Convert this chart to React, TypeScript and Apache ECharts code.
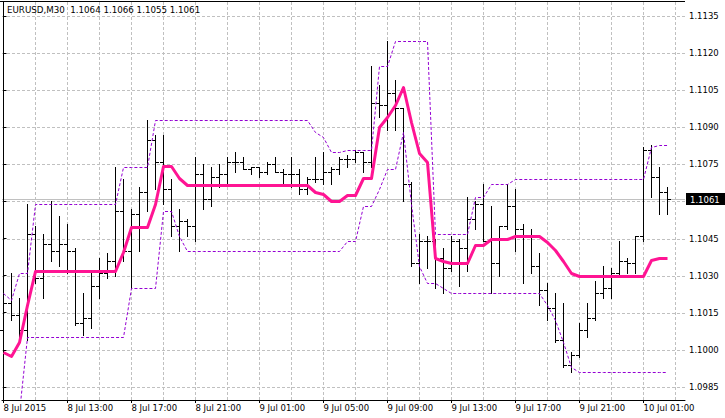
import React, { useEffect, useRef } from "react";
import * as echarts from "echarts";

const titleText = "EURUSD,M30  1.1064 1.1066 1.1055 1.1061";

const opens = [
  1.1008, 1.1019, 1.1014, 1.1008, 1.1047, 1.1029, 1.1043, 1.1040, 1.1043, 1.1040,
  1.1011, 1.1013, 1.1026, 1.1031, 1.1036, 1.1056, 1.1040, 1.1055, 1.1064, 1.1085,
  1.1076, 1.1065, 1.1050, 1.1052, 1.1050, 1.1071, 1.1061, 1.1070, 1.1071, 1.1076,
  1.1076, 1.1073, 1.1074, 1.1072, 1.1075, 1.1072, 1.1071, 1.1071, 1.1065, 1.1069,
  1.1069, 1.1072, 1.1073, 1.1077, 1.1077, 1.1080, 1.1076, 1.1100, 1.1099, 1.1104,
  1.1098, 1.1067, 1.1035, 1.1044, 1.1044, 1.1037, 1.1033, 1.1044, 1.1041, 1.1053,
  1.1059, 1.1044, 1.1035, 1.1050, 1.1058, 1.1049, 1.1046, 1.1034, 1.1024, 1.1017,
  1.1004, 1.0994, 1.0998, 1.1008, 1.1013, 1.1023, 1.1025, 1.1031, 1.1036, 1.1035,
  1.1046, 1.1081, 1.1070, 1.1064,
];
const highs = [
  1.1090, 1.1031, 1.1021, 1.1059, 1.1050, 1.1047, 1.1060, 1.1054, 1.1051, 1.1041,
  1.1023, 1.1031, 1.1037, 1.1039, 1.1074, 1.1069, 1.1057, 1.1066, 1.1093, 1.1087,
  1.1087, 1.1069, 1.1057, 1.1053, 1.1078, 1.1075, 1.1074, 1.1075, 1.1078, 1.1080,
  1.1078, 1.1074, 1.1074, 1.1076, 1.1078, 1.1073, 1.1078, 1.1073, 1.1070, 1.1078,
  1.1080, 1.1074, 1.1078, 1.1079, 1.1081, 1.1080, 1.1115, 1.1107, 1.1125, 1.1109,
  1.1098, 1.1068, 1.1047, 1.1046, 1.1045, 1.1041, 1.1046, 1.1045, 1.1062, 1.1060,
  1.1067, 1.1058, 1.1050, 1.1067, 1.1065, 1.1051, 1.1049, 1.1039, 1.1027, 1.1023,
  1.1019, 1.0999, 1.1011, 1.1019, 1.1028, 1.1034, 1.1033, 1.1044, 1.1037, 1.1046,
  1.1082, 1.1083, 1.1074, 1.1066,
];
const lows = [
  1.0999, 1.1012, 1.1005, 1.1004, 1.1027, 1.1021, 1.1036, 1.1034, 1.1031, 1.1010,
  1.1006, 1.1009, 1.1021, 1.1029, 1.1030, 1.1036, 1.1025, 1.1040, 1.1056, 1.1065,
  1.1059, 1.1046, 1.1040, 1.1046, 1.1044, 1.1057, 1.1058, 1.1066, 1.1067, 1.1072,
  1.1073, 1.1071, 1.1070, 1.1071, 1.1072, 1.1067, 1.1066, 1.1063, 1.1063, 1.1068,
  1.1067, 1.1067, 1.1071, 1.1074, 1.1076, 1.1072, 1.1074, 1.1094, 1.1089, 1.1089,
  1.1060, 1.1034, 1.1027, 1.1033, 1.1025, 1.1023, 1.1032, 1.1026, 1.1032, 1.1049,
  1.1044, 1.1023, 1.1030, 1.1049, 1.1040, 1.1027, 1.1031, 1.1018, 1.1012, 1.1003,
  1.0993, 1.0991, 1.0997, 1.1005, 1.1012, 1.1021, 1.1021, 1.1030, 1.1031, 1.1031,
  1.1044, 1.1062, 1.1055, 1.1055,
];
const closes = [
  1.1019, 1.1014, 1.1008, 1.1047, 1.1029, 1.1043, 1.1040, 1.1043, 1.1040, 1.1011,
  1.1013, 1.1026, 1.1031, 1.1036, 1.1056, 1.1040, 1.1055, 1.1064, 1.1085, 1.1076,
  1.1065, 1.1050, 1.1052, 1.1050, 1.1071, 1.1061, 1.1070, 1.1071, 1.1076, 1.1076,
  1.1073, 1.1074, 1.1072, 1.1075, 1.1072, 1.1071, 1.1071, 1.1065, 1.1069, 1.1069,
  1.1072, 1.1073, 1.1077, 1.1077, 1.1080, 1.1076, 1.1100, 1.1099, 1.1104, 1.1098,
  1.1067, 1.1035, 1.1044, 1.1044, 1.1037, 1.1033, 1.1044, 1.1041, 1.1053, 1.1059,
  1.1044, 1.1035, 1.1050, 1.1058, 1.1049, 1.1046, 1.1034, 1.1024, 1.1017, 1.1004,
  1.0994, 1.0998, 1.1008, 1.1013, 1.1023, 1.1025, 1.1031, 1.1036, 1.1035, 1.1046,
  1.1081, 1.1070, 1.1064, 1.1061,
];

const upperBand = [
  1.1023, 1.1020, 1.1031, 1.1031, 1.1059, 1.1059, 1.1059, 1.1059, 1.1059, 1.1059,
  1.1059, 1.1059, 1.1059, 1.1059, 1.1059, 1.1074, 1.1074, 1.1074, 1.1074, 1.1093,
  1.1093, 1.1093, 1.1093, 1.1093, 1.1093, 1.1093, 1.1093, 1.1093, 1.1093, 1.1093,
  1.1093, 1.1093, 1.1093, 1.1093, 1.1093, 1.1093, 1.1093, 1.1093, 1.1093, 1.1088,
  1.1086, 1.1080, 1.1080, 1.1081, 1.1081, 1.1081, 1.1081, 1.1115, 1.1115, 1.1125,
  1.1125, 1.1125, 1.1125, 1.1125, 1.1047, 1.1047, 1.1047, 1.1047, 1.1047, 1.1062,
  1.1062, 1.1067, 1.1067, 1.1067, 1.1069, 1.1069, 1.1069, 1.1069, 1.1069, 1.1069,
  1.1069, 1.1069, 1.1069, 1.1069, 1.1069, 1.1069, 1.1069, 1.1069, 1.1069, 1.1069,
  1.1069, 1.1082, 1.1083, 1.1083,
];
const lowerBand = [
  1.0975, 1.0975, 1.0975, 1.1005, 1.1005, 1.1005, 1.1005, 1.1005, 1.1005, 1.1005,
  1.1005, 1.1005, 1.1005, 1.1005, 1.1005, 1.1005, 1.1025, 1.1025, 1.1025, 1.1025,
  1.1056, 1.1056, 1.1046, 1.1040, 1.1040, 1.1040, 1.1040, 1.1040, 1.1040, 1.1040,
  1.1040, 1.1040, 1.1040, 1.1040, 1.1040, 1.1040, 1.1040, 1.1040, 1.1040, 1.1040,
  1.1040, 1.1040, 1.1040, 1.1044, 1.1044, 1.1058, 1.1058, 1.1065, 1.1073, 1.1073,
  1.1088, 1.1059, 1.1034, 1.1027, 1.1027, 1.1025, 1.1023, 1.1023, 1.1023, 1.1023,
  1.1023, 1.1023, 1.1023, 1.1023, 1.1023, 1.1023, 1.1023, 1.1023, 1.1018, 1.1012,
  1.1003, 1.0993, 1.0991, 1.0991, 1.0991, 1.0991, 1.0991, 1.0991, 1.0991, 1.0991,
  1.0991, 1.0991, 1.0991, 1.0991,
];
const middleLine = [
  1.0999, 1.09975, 1.1003, 1.1018, 1.1032, 1.1032, 1.1032, 1.1032, 1.1032, 1.1032,
  1.1032, 1.1032, 1.1032, 1.1032, 1.1032, 1.10395, 1.10495, 1.10495, 1.10495, 1.1059,
  1.10745, 1.10745, 1.10695, 1.10665, 1.10665, 1.10665, 1.10665, 1.10665, 1.10665, 1.10665,
  1.10665, 1.10665, 1.10665, 1.10665, 1.10665, 1.10665, 1.10665, 1.10665, 1.10665, 1.1064,
  1.1063, 1.1060, 1.1060, 1.10625, 1.10625, 1.10695, 1.10695, 1.1090, 1.1094, 1.1099,
  1.11065, 1.1092, 1.10795, 1.1076, 1.1037, 1.1036, 1.1035, 1.1035, 1.1035, 1.10425,
  1.10425, 1.1045, 1.1045, 1.1045, 1.1046, 1.1046, 1.1046, 1.1046, 1.10435, 1.10405,
  1.1036, 1.1031, 1.1030, 1.1030, 1.1030, 1.1030, 1.1030, 1.1030, 1.1030, 1.1030,
  1.1030, 1.10365, 1.1037, 1.1037,
];

const xTickBars = [0, 8, 16, 24, 32, 40, 48, 56, 64, 72, 80];
const xTickLabels = [
  "8 Jul 2015", "8 Jul 13:00", "8 Jul 17:00", "8 Jul 21:00", "9 Jul 01:00",
  "9 Jul 05:00", "9 Jul 09:00", "9 Jul 13:00", "9 Jul 17:00", "9 Jul 21:00", "10 Jul 01:00",
];
const xGridBars = [4, 8, 12, 16, 20, 24, 28, 32, 36, 40, 44, 48, 52, 56, 60, 64, 68, 72, 76, 80, 84];
const yLabelValues = [1.0985, 1.1, 1.1015, 1.103, 1.1045, 1.1075, 1.109, 1.1105, 1.112, 1.1135];
const yGridValues = [1.0985, 1.1, 1.1015, 1.103, 1.1045, 1.106, 1.1075, 1.109, 1.1105, 1.112, 1.1135];
const lastPrice = 1.1061;

const FONT = '"DejaVu Sans", Verdana, sans-serif';

function crispPolylineSeries(name: string, values: number[], color: string, width: number, dash: number[] | null, z: number) {
  return {
    type: "custom",
    name,
    z,
    silent: true,
    clip: true,
    data: [[0, values[0]]],
    encode: { x: 0, y: 1 },
    renderItem: (_params: any, api: any) => {
      const pts = values.map((v, i) => {
        const p = api.coord([i, v]);
        return [Math.floor(p[0]) + 0.5, Math.round(p[1]) + (width % 2 === 1 ? 0.5 : 0)];
      });
      const style: any = { stroke: color, lineWidth: width, fill: null, lineJoin: "round" };
      if (dash) style.lineDash = dash;
      return { type: "polyline", shape: { points: pts }, style };
    },
  };
}

export default function App() {
  const ref = useRef<HTMLDivElement>(null);

  useEffect(() => {
    document.body.style.margin = "0";
    const chart = echarts.init(ref.current as HTMLDivElement, null, { renderer: "svg" });

    const ohlc = opens.map((o, i) => [i, o, highs[i], lows[i], closes[i]]);
    const black = { stroke: "#000", lineWidth: 1 };
    const gridStyle = { stroke: "#C0C0C0", lineWidth: 1, lineDash: [3, 2] };

    const option: any = {
      animation: false,
      backgroundColor: "#fff",
      grid: { left: 2, top: 2, width: 683, height: 398, show: false },
      xAxis: {
        type: "value",
        min: -0.1875,
        max: 85.1875,
        axisLine: { show: true, onZero: false, lineStyle: { color: "#000", width: 1 } },
        axisTick: { show: true, customValues: xTickBars, length: 3, lineStyle: { color: "#000" } },
        axisLabel: {
          show: true,
          customValues: xTickBars,
          formatter: (v: number) => {
            const idx = xTickBars.indexOf(Math.round(v));
            return idx >= 0 ? xTickLabels[idx] : "";
          },
          align: "left",
          margin: 3,
          color: "#000",
          fontSize: 8.5,
          fontFamily: FONT,
        },
        splitLine: { show: false },
      },
      yAxis: {
        type: "value",
        position: "right",
        min: 1.09797,
        max: 1.11407,
        axisLine: { show: true, lineStyle: { color: "#000", width: 1 } },
        axisTick: { show: true, customValues: yGridValues, length: 3, lineStyle: { color: "#000" } },
        axisLabel: {
          show: true,
          customValues: yLabelValues,
          formatter: (v: number) => v.toFixed(4),
          margin: 4,
          color: "#000",
          fontSize: 8.5,
          fontFamily: FONT,
        },
        splitLine: { show: false },
      },
      graphic: [
        {
          type: "line",
          shape: { x1: 0, y1: 1.5, x2: 685, y2: 1.5 },
          style: { stroke: "#000", lineWidth: 1 },
          z: 10,
        },
        {
          type: "text",
          left: 7,
          top: 5,
          style: { text: titleText, fill: "#000", fontSize: 8.7, fontFamily: FONT },
          z: 10,
        },
      ],
      series: [
        {
          type: "custom",
          name: "vgrid",
          z: 0,
          silent: true,
          clip: false,
          data: xGridBars.map((k) => [k, 1.1]),
          encode: { x: 0, y: 1 },
          renderItem: (params: any, api: any) => {
            const cs = params.coordSys;
            const p = api.coord([api.value(0), api.value(1)]);
            const x = Math.floor(p[0]) + 0.5;
            return { type: "line", shape: { x1: x, y1: cs.y, x2: x, y2: cs.y + cs.height }, style: gridStyle };
          },
        },
        {
          type: "custom",
          name: "hgrid",
          z: 0,
          silent: true,
          clip: false,
          data: yGridValues.map((v) => [40, v]),
          encode: { x: 0, y: 1 },
          renderItem: (params: any, api: any) => {
            const cs = params.coordSys;
            const p = api.coord([api.value(0), api.value(1)]);
            const y = Math.round(p[1]) + 0.5;
            return { type: "line", shape: { x1: cs.x, y1: y, x2: cs.x + cs.width, y2: y }, style: gridStyle };
          },
        },
        {
          type: "custom",
          name: "bidline",
          z: 1,
          silent: true,
          clip: false,
          data: [[0, lastPrice]],
          encode: { x: 0, y: 1 },
          renderItem: (params: any, api: any) => {
            const cs = params.coordSys;
            const v = api.value(1);
            const p = api.coord([0, v]);
            const y = Math.round(p[1]) + 0.5;
            const right = cs.x + cs.width;
            return {
              type: "group",
              children: [
                { type: "line", shape: { x1: cs.x, y1: y, x2: right, y2: y }, style: { stroke: "#C0C0C0", lineWidth: 1 } },
                { type: "rect", shape: { x: right + 1, y: y - 6.5, width: 40, height: 12 }, style: { fill: "#000" } },
                {
                  type: "text",
                  x: right + 5,
                  y: y,
                  style: { text: v.toFixed(4), fill: "#fff", fontSize: 8.5, fontFamily: FONT, align: "left", verticalAlign: "middle" },
                },
              ],
            };
          },
        },
        {
          type: "custom",
          name: "bars",
          z: 2,
          silent: true,
          data: ohlc,
          encode: { x: 0, y: [1, 2, 3, 4] },
          renderItem: (_params: any, api: any) => {
            const i = api.value(0);
            const pO = api.coord([i, api.value(1)]);
            const pH = api.coord([i, api.value(2)]);
            const pL = api.coord([i, api.value(3)]);
            const pC = api.coord([i, api.value(4)]);
            const x = Math.floor(pH[0]) + 0.5;
            const yH = Math.round(pH[1]);
            const yL = Math.round(pL[1]) + 1;
            const yO = Math.round(pO[1]) + 0.5;
            const yC = Math.round(pC[1]) + 0.5;
            return {
              type: "group",
              children: [
                { type: "line", shape: { x1: x, y1: yH, x2: x, y2: yL }, style: black },
                { type: "line", shape: { x1: x - 3.5, y1: yO, x2: x - 0.5, y2: yO }, style: black },
                { type: "line", shape: { x1: x + 0.5, y1: yC, x2: x + 3.5, y2: yC }, style: black },
              ],
            };
          },
        },
        crispPolylineSeries("upper", upperBand, "#9400D3", 1, [3, 2], 3),
        crispPolylineSeries("lower", lowerBand, "#9400D3", 1, [3, 2], 3),
        crispPolylineSeries("middle", middleLine, "#FF1493", 3, null, 4),
      ],
    };

    chart.setOption(option);
    return () => chart.dispose();
  }, []);

  return (
    <div
      ref={ref}
      style={{ position: "fixed", left: 0, top: 0, width: 725, height: 418, background: "#fff" }}
    />
  );
}
